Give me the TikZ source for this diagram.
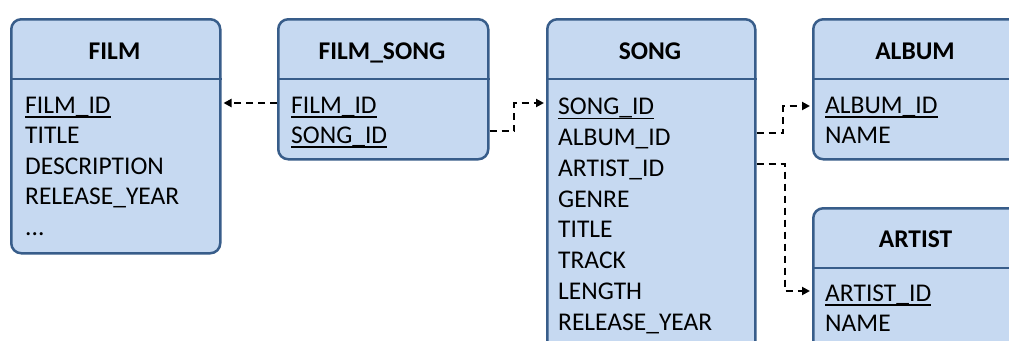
\documentclass[tikz,border=0pt]{standalone}
\usepackage{fontspec}
\setmainfont{Carlito}
\usetikzlibrary{arrows.meta}
\definecolor{boxfill}{RGB}{198,217,241}
\definecolor{boxedge}{RGB}{56,93,138}
\tikzset{
  tbl/.style={draw=boxedge, fill=boxfill, line width=2.5pt, rounded corners=10pt, anchor=north west, inner sep=0pt},
  sepline/.style={draw=boxedge, line width=2.5pt},
  hdr/.style={font=\fontsize{25.5}{30}\selectfont\bfseries, anchor=base, inner sep=0pt},
  row/.style={font=\fontsize{25.5}{30}\selectfont, anchor=base west, inner sep=0pt},
  ulin/.style={line width=1.5pt},
  fk/.style={dash pattern=on 7pt off 5pt, line width=2pt, -{Triangle[length=8pt,width=8pt]}, shorten >=2pt},
}
\newcommand{\keyline}[1]{\draw[ulin] ([yshift=-4pt]#1.base west) -- ([yshift=-4pt]#1.base east);}
\begin{document}
\begin{tikzpicture}[x=1pt,y=-1pt]
\useasboundingbox (0,0) rectangle (1009,340);
\clip (0,0) rectangle (1009,340);
\fill[white] (0,0) rectangle (1009,340);
% boxes
\node[tbl, minimum width=209pt, minimum height=234pt] (film) at (10,18) {};
\node[tbl, minimum width=210pt, minimum height=140pt] (fs) at (277,18) {};
\node[tbl, minimum width=208pt, minimum height=360pt] (song) at (546,18) {};
\node[tbl, minimum width=208pt, minimum height=140pt] (album) at (812,18) {};
\node[tbl, minimum width=208pt, minimum height=170pt] (artist) at (812,207) {};
% header separators
\coordinate (h1) at (0,79);
\coordinate (h2) at (0,268);
\draw[sepline] (film.west |- h1) -- (film.east |- h1);
\draw[sepline] (fs.west |- h1) -- (fs.east |- h1);
\draw[sepline] (song.west |- h1) -- (song.east |- h1);
\draw[sepline] (album.west |- h1) -- (album.east |- h1);
\draw[sepline] (artist.west |- h2) -- (artist.east |- h2);
% headers
\node[hdr] (filmh) at (114.5,59) {FILM};
\node[hdr] (fsh) at (382,59) {FILM\_SONG};
\node[hdr] (songh) at (650,59) {SONG};
\node[hdr] (albumh) at (915,59) {ALBUM};
\node[hdr] (artisth) at (915.5,247) {ARTIST};
% FILM rows
\node[row] (f1) at (25,113) {FILM\_ID}; \keyline{f1}
\node[row] (f2) at (25,143.5) {TITLE};
\node[row] (f3) at (25,174) {DESCRIPTION};
\node[row] (f4) at (25,204.5) {RELEASE\_YEAR};
\node[row] (f5) at (25,235) {...};
% FILM_SONG rows
\node[row] (fs1) at (291,113) {FILM\_ID}; \keyline{fs1}
\node[row] (fs2) at (291,143) {SONG\_ID}; \keyline{fs2}
% SONG rows
\node[row] (s1) at (558,114.5) {SONG\_ID}; \keyline{s1}
\node[row] (s2) at (558,145.5) {ALBUM\_ID};
\node[row] (s3) at (558,176.5) {ARTIST\_ID};
\node[row] (s4) at (558,207) {GENRE};
\node[row] (s5) at (558,237.5) {TITLE};
\node[row] (s6) at (558,268.5) {TRACK};
\node[row] (s7) at (558,299) {LENGTH};
\node[row] (s8) at (558,330) {RELEASE\_YEAR};
% ALBUM rows
\node[row] (a1) at (825,113) {ALBUM\_ID}; \keyline{a1}
\node[row] (a2) at (825,143) {NAME};
% ARTIST rows
\node[row] (r1) at (825,301) {ARTIST\_ID}; \keyline{r1}
\node[row] (r2) at (825,331.5) {NAME};
% connectors
\coordinate (y1) at (0,103);
\coordinate (b2) at (514,131);
\coordinate (y2) at (0,103);
\coordinate (b3) at (783,133);
\coordinate (y3) at (0,106);
\coordinate (b4) at (785,164);
\coordinate (y4) at (0,291);
\draw[fk] (fs.west |- y1) -- (film.east |- y1);
\draw[fk] (fs.east |- b2) -- (b2) |- (song.west |- y2);
\draw[fk] (song.east |- b3) -- (b3) |- (album.west |- y3);
\draw[fk] (song.east |- b4) -- (b4) |- (artist.west |- y4);
\end{tikzpicture}
\end{document}
